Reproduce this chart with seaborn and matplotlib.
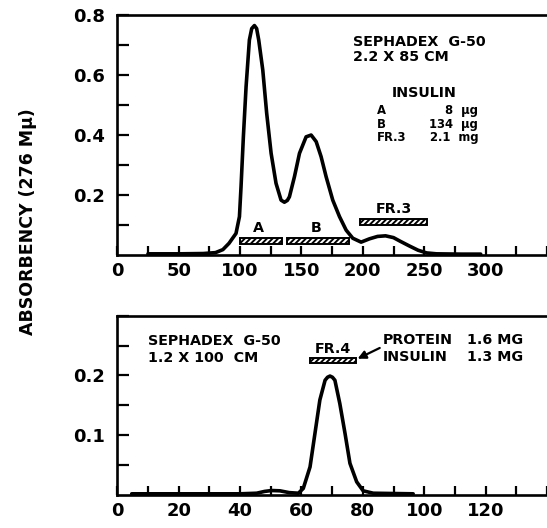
import matplotlib
matplotlib.use("Agg")
import matplotlib.pyplot as plt
import seaborn as sns
import pandas as pd

# ---- Data: top chromatogram (Sephadex G-50, 2.2 x 85 cm) ----
top_x = [25, 50, 70, 80, 86, 91, 96.7, 99.5, 100.8, 102.7, 104.9, 107.6, 109.5,
         111.7, 113.5, 115.2, 118.5, 121.7, 125.3, 129.3, 133.4, 136.1, 138.5,
         140.2, 144.3, 148.4, 153.8, 157.9, 162, 166, 170.1, 175.5, 181, 186.4,
         191.8, 198.6, 205.4, 212, 218.5, 225, 230.4, 238, 245, 252, 260, 280, 296]
top_y = [0.004, 0.004, 0.005, 0.008, 0.018, 0.039, 0.072, 0.128, 0.228, 0.394,
         0.561, 0.717, 0.755, 0.765, 0.755, 0.717, 0.617, 0.472, 0.339, 0.239,
         0.183, 0.176, 0.182, 0.194, 0.261, 0.339, 0.394, 0.400, 0.378, 0.328,
         0.261, 0.183, 0.128, 0.083, 0.056, 0.043, 0.054, 0.062, 0.064, 0.058,
         0.046, 0.030, 0.016, 0.007, 0.004, 0.003, 0.003]

top_bar_names = ["A", "B", "FR.3"]
top_bar_start = [100, 138.5, 198]
top_bar_end = [134.4, 189, 252]
top_bar_level = [0.047, 0.047, 0.111]

top_xticks = [0, 25, 50, 75, 100, 125, 150, 175, 200, 225, 250, 275, 300, 325, 350]
top_xlabels = ["0", "", "50", "", "100", "", "150", "", "200", "", "250", "", "300", "", ""]
top_yticks = [0.1, 0.2, 0.3, 0.4, 0.5, 0.6, 0.7, 0.8]
top_ylabels = ["", "0.2", "", "0.4", "", "0.6", "", "0.8"]

# ---- Data: bottom chromatogram (Sephadex G-50, 1.2 x 100 cm) ----
bot_x = [4.7, 20, 40, 45.4, 48, 50.3, 53, 56, 59, 60.6, 62.8, 64.4, 66, 67.7,
         68.5, 69.3, 70.1, 70.9, 72.5, 74.2, 75.8, 78, 80.1, 83.4, 96.4]
bot_y = [0.002, 0.002, 0.002, 0.003, 0.006, 0.0075, 0.007, 0.004, 0.003, 0.011,
         0.047, 0.103, 0.159, 0.192, 0.197, 0.199, 0.197, 0.192, 0.153, 0.103,
         0.053, 0.022, 0.007, 0.003, 0.002]

bot_bar_names = ["FR.4"]
bot_bar_start = [62.8]
bot_bar_end = [77.8]
bot_bar_level = [0.2255]

bot_xticks = [0, 10, 20, 30, 40, 50, 60, 70, 80, 90, 100, 110, 120, 130, 140]
bot_xlabels = ["0", "", "20", "", "40", "", "60", "", "80", "", "100", "", "120", "", ""]
bot_yticks = [0.05, 0.1, 0.15, 0.2, 0.25, 0.3]
bot_ylabels = ["", "0.1", "", "0.2", "", ""]

sns.set_style("ticks")
plt.rcParams["font.family"] = ["DejaVu Sans"]
plt.rcParams["font.weight"] = "bold"
plt.rcParams["hatch.linewidth"] = 1.4
plt.rcParams["text.color"] = "black"

fig = plt.figure(figsize=(5.47, 5.28), dpi=100)
ax1 = fig.add_axes([0.2144, 0.517, 0.7856, 0.4545])
ax2 = fig.add_axes([0.2144, 0.0625, 0.7856, 0.3396])

top_df = pd.DataFrame({"tube": top_x, "abs": top_y})
bot_df = pd.DataFrame({"tube": bot_x, "abs": bot_y})
sns.lineplot(data=top_df, x="tube", y="abs", ax=ax1, color="black", linewidth=2.6,
             sort=False, estimator=None)
sns.lineplot(data=bot_df, x="tube", y="abs", ax=ax2, color="black", linewidth=2.6,
             sort=False, estimator=None)


def bars(ax, starts, ends, levels, h):
    widths = [e - s for s, e in zip(starts, ends)]
    ax.barh(levels, widths, left=starts, height=h, facecolor="white",
            edgecolor="black", linewidth=1.4, hatch="//////", zorder=3)


bars(ax1, top_bar_start, top_bar_end, top_bar_level, 0.02)
bars(ax2, bot_bar_start, bot_bar_end, bot_bar_level, 0.009)

for ax, xt, xl, yt, yl, xlim, ylim in [
        (ax1, top_xticks, top_xlabels, top_yticks, top_ylabels, (0, 350), (0, 0.8)),
        (ax2, bot_xticks, bot_xlabels, bot_yticks, bot_ylabels, (0, 140), (0, 0.3))]:
    ax.set_xlim(*xlim)
    ax.set_ylim(*ylim)
    ax.set_xticks(xt)
    ax.set_xticklabels(xl)
    ax.set_yticks(yt)
    ax.set_yticklabels(yl)
    ax.set_xlabel("")
    ax.set_ylabel("")
    ax.spines["right"].set_visible(False)
    for s in ["left", "bottom", "top"]:
        ax.spines[s].set_linewidth(1.9)
        ax.spines[s].set_color("black")
    ax.tick_params(axis="both", direction="in", width=1.6, color="black",
                   labelcolor="black", labelsize=13, top=False, right=False)
    ax.tick_params(axis="x", pad=5, length=6.5)
    ax.tick_params(axis="y", pad=9, length=8.5)
    for lab in ax.get_xticklabels() + ax.get_yticklabels():
        lab.set_fontweight("bold")

fs = 10.3
tk = dict(fontsize=fs, fontweight="bold", color="black", va="center")
# top panel annotations
ax1.text(191.8, 0.711, "SEPHADEX  G-50", ha="left", **tk)
ax1.text(191.8, 0.661, "2.2 X 85 CM", ha="left", **tk)
ax1.text(223.6, 0.540, "INSULIN", ha="left", **tk)
ins = dict(fontsize=8.4, fontweight="bold", color="black", va="center")
ax1.text(211.4, 0.483, "A", ha="left", **ins)
ax1.text(294.0, 0.483, "8  μg", ha="right", **ins)
ax1.text(211.4, 0.436, "B", ha="left", **ins)
ax1.text(294.0, 0.436, "134  μg", ha="right", **ins)
ax1.text(211.4, 0.391, "FR.3", ha="left", **ins)
ax1.text(294.0, 0.391, "2.1  mg", ha="right", **ins)
for name, s, e, lv in zip(top_bar_names, top_bar_start, top_bar_end, top_bar_level):
    ax1.text((s + e) / 2 - (0 if name == "FR.3" else 2), lv + 0.043, name, ha="center", **tk)

# bottom panel annotations
ax2.text(10, 0.258, "SEPHADEX  G-50", ha="left", **tk)
ax2.text(10, 0.230, "1.2 X 100  CM", ha="left", **tk)
ax2.text(86.5, 0.259, "PROTEIN", ha="left", **tk)
ax2.text(113.8, 0.259, "1.6 MG", ha="left", **tk)
ax2.text(86.5, 0.231, "INSULIN", ha="left", **tk)
ax2.text(113.8, 0.231, "1.3 MG", ha="left", **tk)
for name, s, e, lv in zip(bot_bar_names, bot_bar_start, bot_bar_end, bot_bar_level):
    ax2.text((s + e) / 2, lv + 0.0195, name, ha="center", **tk)
ax2.annotate("", xy=(78.3, 0.228), xytext=(85.5, 0.246),
             arrowprops=dict(arrowstyle="-|>", color="black", lw=1.6,
                             mutation_scale=12, shrinkA=0, shrinkB=0))

fig.text(0.052, 0.58, "ABSORBENCY (276 Mμ)", rotation=90, ha="center", va="center",
         fontsize=12.5, fontweight="bold", color="black")

fig.savefig("out.png", dpi=100)
